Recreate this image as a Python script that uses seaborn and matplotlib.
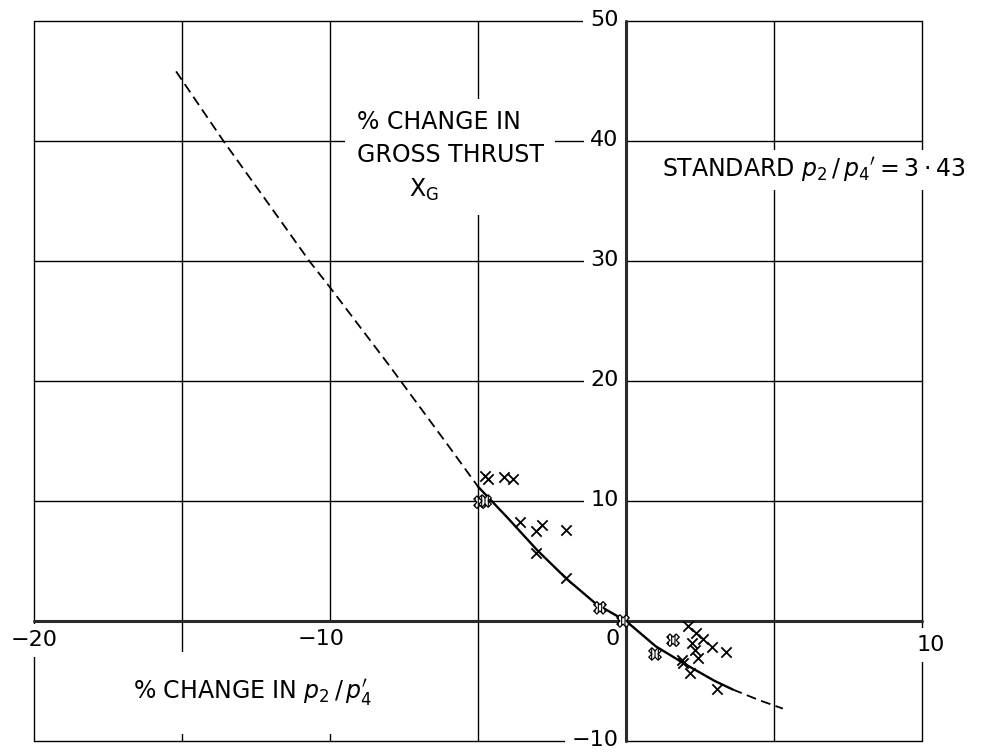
import numpy as np
import pandas as pd
import seaborn as sns
import matplotlib.pyplot as plt

# curve: dashed / solid / dashed
x_dash_up = [-15.2, -13.6, -12.0, -10.7, -10.0, -8.0, -6.0, -5.0]
y_dash_up = [45.8, 40.0, 34.5, 30.0, 27.8, 21.3, 14.6, 11.2]
x_solid = [-5.0, -4.0, -3.0, -2.0, -1.0, 0.0, 1.0, 2.0, 3.0, 3.6]
y_solid = [11.2, 8.6, 5.9, 3.5, 1.4, 0.0, -2.1, -3.6, -5.0, -5.7]
x_dash_lo = [3.6, 4.5, 5.3]
y_dash_lo = [-5.7, -6.6, -7.3]

# test points (x marks)
pts_x = [-4.76, -4.66, -4.12, -3.82, -3.58, -3.04, -2.84, -2.03, -3.04, -2.03,
         2.10, 2.36, 2.60, 2.90, 3.38, 2.23, 2.33, 2.43, 1.89, 1.93, 2.16, 3.07]
pts_y = [12.1, 11.8, 12.0, 11.8, 8.25, 7.5, 8.0, 7.6, 5.7, 3.6,
         -0.4, -1.0, -1.5, -2.2, -2.6, -1.8, -2.4, -3.1, -3.25, -3.5, -4.3, -5.7]
# hatched (repeated) points
hat_x = [-4.93, -4.76, -0.88, -0.10, 1.59, 0.98]
hat_y = [9.9, 10.0, 1.1, 0.0, -1.6, -2.75]

x_ticks = [-20, -10, 0, 10]
y_ticks = [50, 40, 30, 20, 10, -10]

sns.set_style("white")
plt.rcParams['font.family'] = ['DejaVu Sans']
plt.rcParams['mathtext.fontset'] = 'dejavusans'
plt.rcParams['text.color'] = 'black'
plt.rcParams['hatch.linewidth'] = 0.8

fig = plt.figure(figsize=(9.97, 7.52), dpi=100)
ax = fig.add_axes([34 / 997, 1 - 741 / 752, 888 / 997, 720 / 752])
ax.set_xlim(-20, 10)
ax.set_ylim(-10, 50)
for s in ax.spines.values():
    s.set_visible(False)
ax.set_xticks([])
ax.set_yticks([])

# grid / frame
for gx in range(-20, 11, 5):
    if gx != 0:
        ax.axvline(gx, color='black', lw=1.0, zorder=1, clip_on=False)
for gy in range(-10, 51, 10):
    if gy != 0:
        ax.axhline(gy, color='black', lw=1.0, zorder=1, clip_on=False)
# main axes through origin
ax.axvline(0, color='#2a2a2a', lw=2.2, zorder=5, clip_on=False)
ax.axhline(0, color='#2a2a2a', lw=2.2, zorder=5, clip_on=False)

# curve
sns.lineplot(x=x_dash_up, y=y_dash_up, ax=ax, sort=False, estimator=None,
             color='black', linewidth=1.3, linestyle=(0, (5.5, 3)), zorder=6)
sns.lineplot(x=x_solid, y=y_solid, ax=ax, sort=False, estimator=None,
             color='black', linewidth=1.7, zorder=6)
sns.lineplot(x=x_dash_lo, y=y_dash_lo, ax=ax, sort=False, estimator=None,
             color='black', linewidth=1.3, linestyle=(0, (5.5, 3)), zorder=6)

# points
sns.scatterplot(x=pts_x, y=pts_y, ax=ax, marker='x', color='black',
                s=55, linewidth=1.3, zorder=7)
ax.scatter(hat_x, hat_y, marker='X', s=80, facecolors='white',
           edgecolors='black', linewidths=0.9, hatch='|||||', zorder=7)

box = dict(boxstyle='square,pad=0.3', facecolor='white', edgecolor='none')
fs = 16

# tick labels
for v, xx, yy in zip(x_ticks, [-20, -10.3, -0.45, 10.3], [-1.6, -1.5, -1.5, -2.0]):
    lab = str(v).replace('-', '\u2212')
    ax.text(xx, yy, lab, ha='center', va='center', fontsize=fs, bbox=box, zorder=3)
for v in y_ticks:
    lab = str(v).replace('-', '\u2212')
    ax.text(-0.25, v + 0.1, lab, ha='right', va='center', fontsize=fs, bbox=box, zorder=3)

# axis titles
ax.text(-16.65, -6.0, r"% CHANGE IN $p_2\,/\,p_4'$", ha='left', va='center',
        fontsize=17, zorder=3,
        bbox=dict(boxstyle='square,pad=1.1', facecolor='white', edgecolor='none'))
ax.text(-9.1, 42.6, "% CHANGE IN\nGROSS THRUST\n       $\\mathrm{X}_{\\mathrm{G}}$",
        ha='left', va='top', fontsize=17, linespacing=1.5, zorder=3,
        bbox=dict(boxstyle='square,pad=0.5', facecolor='white', edgecolor='none'))
ax.text(1.2, 37.6, r"STANDARD $p_2\,/\,p_4{}' = 3\cdot 43$", ha='left', va='center',
        fontsize=17, zorder=3,
        bbox=dict(boxstyle='square,pad=0.25', facecolor='white', edgecolor='none'))

fig.savefig('out.png', dpi=100, facecolor='white')
